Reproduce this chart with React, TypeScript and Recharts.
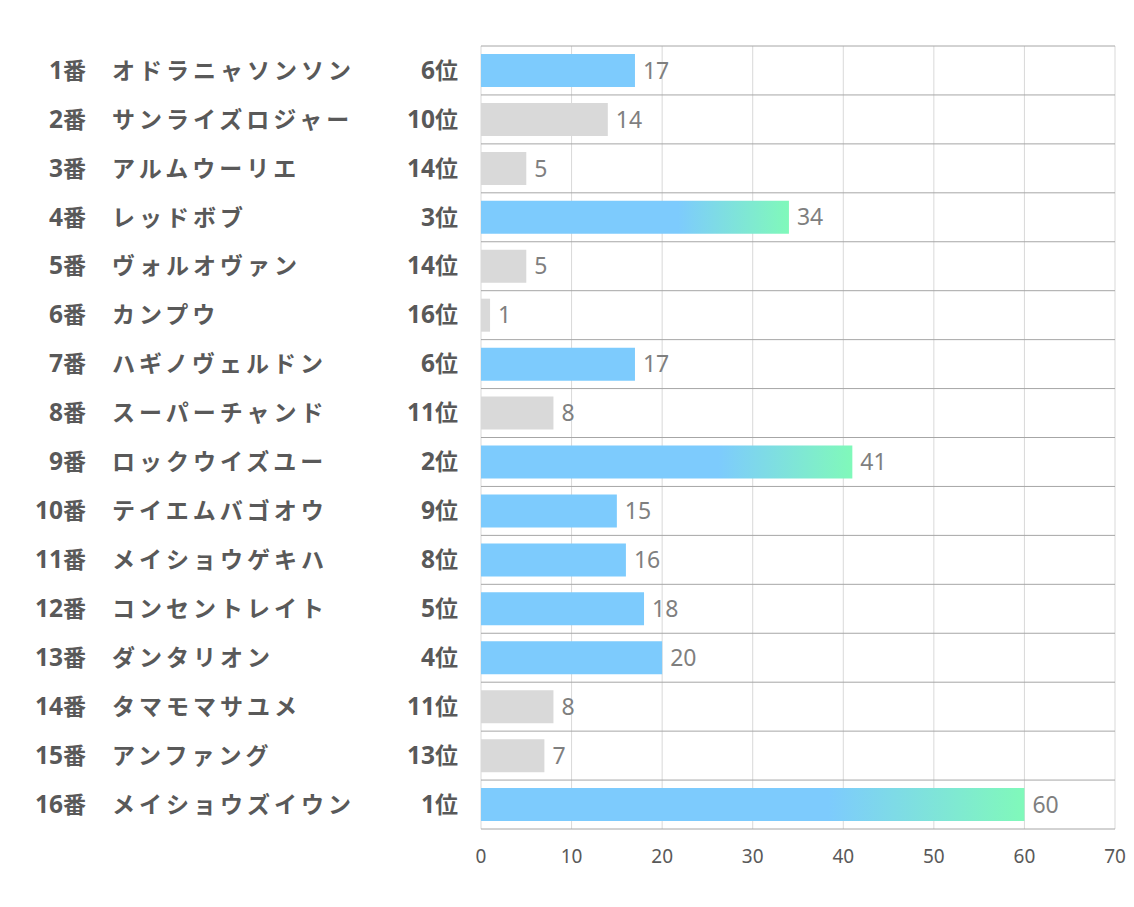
import { BarChart, Bar, XAxis, YAxis, CartesianGrid, Cell, LabelList } from 'recharts';

const horseNumbers = [1, 2, 3, 4, 5, 6, 7, 8, 9, 10, 11, 12, 13, 14, 15, 16];
const horseNames = [
  'オドラニャソンソン',
  'サンライズロジャー',
  'アルムウーリエ',
  'レッドボブ',
  'ヴォルオヴァン',
  'カンプウ',
  'ハギノヴェルドン',
  'スーパーチャンド',
  'ロックウイズユー',
  'テイエムバゴオウ',
  'メイショウゲキハ',
  'コンセントレイト',
  'ダンタリオン',
  'タマモマサユメ',
  'アンファング',
  'メイショウズイウン',
];
const ranks = [6, 10, 14, 3, 14, 16, 6, 11, 2, 9, 8, 5, 4, 11, 13, 1];
const scores = [17, 14, 5, 34, 5, 1, 17, 8, 41, 15, 16, 18, 20, 8, 7, 60];
const xTicks = [0, 10, 20, 30, 40, 50, 60, 70];

const data = horseNumbers.map((n, i) => ({
  key: String(n),
  num: n,
  name: horseNames[i],
  rank: ranks[i],
  value: scores[i],
}));

const BLUE = '#7DCBFD';
const GREEN = '#80F9BA';
const GRAY = '#D9D9D9';
const LABEL = '#595959';
const DIGIT_FONT = '"Open Sans", "Noto Sans CJK JP", sans-serif';
const CJK_FONT = '"Noto Sans CJK JP", sans-serif';

function barFill(rank: number) {
  if (rank <= 3) return 'url(#topGrad)';
  if (rank <= 9) return BLUE;
  return GRAY;
}

function HorseTick(props: any) {
  const { y, payload } = props;
  const row = data.find((d) => d.key === payload.value);
  if (!row) return null;
  const common = { y, dy: '0.36em', fontSize: 23, fontWeight: 700, fill: LABEL };
  return (
    <g>
      <text {...common} x={86} textAnchor="end" fontFamily={CJK_FONT}>
        <tspan fontFamily={DIGIT_FONT} fontSize={24.5}>{row.num}</tspan>番
      </text>
      <text {...common} x={112} textAnchor="start" fontFamily={CJK_FONT} letterSpacing={4}>
        {row.name}
      </text>
      <text {...common} x={458} textAnchor="end" fontFamily={CJK_FONT}>
        <tspan fontFamily={DIGIT_FONT} fontSize={24.5}>{row.rank}</tspan>位
      </text>
    </g>
  );
}

export default function App() {
  return (
    <div style={{ position: 'absolute', left: 0, top: 0, background: '#fff' }}>
      <BarChart
        width={1134}
        height={907}
        data={data}
        layout="vertical"
        margin={{ top: 46, right: 19, bottom: 48, left: 0 }}
        barSize={33}
      >
        <defs>
          <linearGradient id="topGrad" x1="0" y1="0" x2="1" y2="0">
            <stop offset="0" stopColor={BLUE} />
            <stop offset="0.64" stopColor={BLUE} />
            <stop offset="1" stopColor={GREEN} />
          </linearGradient>
        </defs>
        <CartesianGrid horizontal={false} stroke="#D9D9D9" />
        <CartesianGrid
          vertical={false}
          stroke="#A6A6A6"
          horizontalCoordinatesGenerator={({ offset }: any) =>
            Array.from({ length: data.length + 1 }, (_, i) => offset.top + (i * offset.height) / data.length)
          }
        />
        <XAxis
          type="number"
          domain={[0, 70]}
          ticks={xTicks}
          tickLine={false}
          axisLine={false}
          height={30}
          tickMargin={15}
          tick={{ fill: LABEL, fontSize: 19, fontFamily: '"Noto Sans", sans-serif' }}
        />
        <YAxis
          type="category"
          dataKey="key"
          width={481}
          tickLine={false}
          axisLine={false}
          interval={0}
          tick={<HorseTick />}
        />
        <Bar dataKey="value" isAnimationActive={false}>
          {data.map((d) => (
            <Cell key={d.key} fill={barFill(d.rank)} />
          ))}
          <LabelList
            dataKey="value"
            position="right"
            offset={8}
            fill="#7F7F7F"
            fontSize={23}
            fontFamily='"Noto Sans", sans-serif'
          />
        </Bar>
      </BarChart>
    </div>
  );
}
